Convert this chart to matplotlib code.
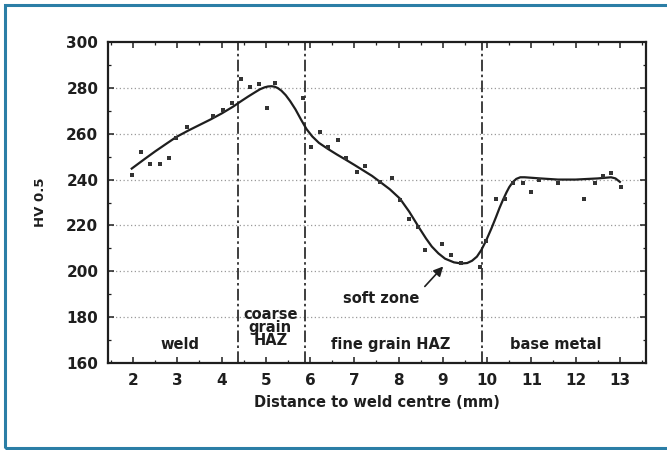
import matplotlib
matplotlib.use("Agg")
import matplotlib.pyplot as plt
from matplotlib.patches import Rectangle
from matplotlib.ticker import MultipleLocator

# measured hardness points (distance mm, HV 0.5)
meas_x = [1.97, 2.19, 2.38, 2.61, 2.81, 2.98, 3.22, 3.81, 4.04, 4.23, 4.45, 4.64, 4.85,
          5.03, 5.2, 5.84, 6.03, 6.22, 6.4, 6.63, 6.82, 7.05, 7.24, 7.58, 7.84, 8.03,
          8.24, 8.44, 8.59, 8.99, 9.19, 9.42, 9.85, 9.98, 10.2, 10.4, 10.58, 10.8,
          10.99, 11.18, 11.6, 12.2, 12.43, 12.62, 12.8, 13.03]
meas_hv = [241.9, 252.0, 247.0, 247.0, 249.5, 258.0, 263.0, 267.7, 270.3, 273.5, 284.0,
           280.5, 281.7, 271.3, 282.0, 275.5, 254.3, 260.6, 254.3, 257.2, 249.2, 243.4,
           246.0, 239.0, 240.5, 231.3, 223.0, 219.4, 209.5, 211.8, 207.0, 203.6, 201.9,
           213.0, 231.7, 231.7, 238.3, 238.3, 234.6, 240.0, 238.3, 231.7, 238.6, 241.5,
           242.7, 236.6]

# fitted curve
fit_x = [1.97, 2.25, 2.5, 2.75, 2.98, 3.25, 3.5, 3.75, 4.0, 4.26, 4.45, 4.6, 4.75, 4.87,
         4.97, 5.05, 5.13, 5.2, 5.27, 5.35, 5.45, 5.55, 5.67, 5.8, 5.92, 6.05, 6.2,
         6.4, 6.6, 6.82, 7.0, 7.2, 7.4, 7.58, 7.8, 8.03, 8.24, 8.48, 8.62, 8.75, 8.9,
         9.05, 9.25, 9.42, 9.55, 9.66, 9.77, 9.87, 9.98, 10.1, 10.2, 10.28, 10.36,
         10.44, 10.5, 10.58, 10.66, 10.75, 10.85, 11.2, 11.6, 12.0, 12.5, 12.8, 12.9, 13.0]
fit_hv = [244.8, 248.8, 252.3, 255.6, 258.6, 261.4, 263.8, 266.2, 268.8, 271.8, 274.3,
          276.2, 278.0, 279.4, 280.2, 280.6, 280.7, 280.5, 279.9, 278.8, 276.8, 274.2,
          270.6, 266.0, 262.0, 258.8, 256.0, 253.4, 251.0, 248.5, 246.4, 244.0, 241.6,
          239.0, 235.8, 231.7, 226.0, 218.5, 214.3, 210.8, 207.8, 205.5, 203.9, 203.4,
          203.6, 204.6, 206.4, 209.3, 213.5, 218.8, 223.6, 227.6, 231.2, 234.5, 236.7,
          238.9, 240.3, 241.0, 241.0, 240.5, 240.0, 240.0, 240.5, 241.0, 240.5, 239.0]

zone_bounds = [4.36, 5.88, 9.88]
yticks = [160, 180, 200, 220, 240, 260, 280, 300]
xticks = list(range(2, 14))

ink = "#1e1e1e"
plt.rcParams["font.family"] = ["DejaVu Sans"]
plt.rcParams["font.weight"] = "bold"
plt.rcParams["axes.labelweight"] = "bold"

fig = plt.figure(figsize=(6.67, 4.5), dpi=100)
ax = fig.add_axes([0.162, 0.1933, 0.8065, 0.7134])

# blue frame around the picture
fig.patches.append(Rectangle((5 / 667, 2 / 450), 1.2, 443 / 450, transform=fig.transFigure,
                             fill=False, edgecolor="#2b7ea6", linewidth=2.2))

for yv in yticks[1:-1]:
    ax.axhline(yv, color="#9a9a9a", linestyle=(0, (1, 2)), linewidth=0.9, zorder=1)
for xb in zone_bounds:
    ax.axvline(xb, color=ink, linestyle=(0, (7, 2, 1.5, 2)), linewidth=1.2, zorder=2)

ax.plot(fit_x, fit_hv, color=ink, linewidth=1.6, zorder=3, solid_joinstyle="round")
ax.scatter(meas_x, meas_hv, s=8, marker="s", color="#333333", zorder=4, linewidths=0)

ax.set_xlim(1.435, 13.59)
ax.set_ylim(160, 300)
ax.set_xticks(xticks)
ax.set_yticks(yticks)
ax.xaxis.set_minor_locator(MultipleLocator(0.5))
ax.yaxis.set_minor_locator(MultipleLocator(10))
ax.tick_params(which="both", direction="in", top=True, right=True, color=ink)
ax.tick_params(which="major", length=4, width=1.1, labelsize=11, labelcolor=ink, pad=7)
ax.tick_params(which="minor", length=2.5, width=0.9)
for s in ax.spines.values():
    s.set_linewidth(1.6)
    s.set_color(ink)

ax.set_xlabel("Distance to weld centre (mm)", fontsize=10.5, color=ink, labelpad=5)
ax.set_ylabel("HV 0.5", fontsize=9.5, color=ink, labelpad=14)

lab = dict(ha="center", va="center", fontsize=10.5, color=ink)
ax.text(3.07, 168, "weld", **lab)
ax.text(5.1, 175.5, "coarse\ngrain\nHAZ", linespacing=0.8, **lab)
ax.text(7.82, 168, "fine grain HAZ", **lab)
ax.text(11.55, 168, "base metal", **lab)
ax.text(7.6, 188, "soft zone", **lab)
ax.annotate("", xy=(9.05, 203), xytext=(8.55, 192.5),
            arrowprops=dict(arrowstyle="-|>", color=ink, lw=1.2, mutation_scale=14))

fig.savefig("out.png", dpi=100)
